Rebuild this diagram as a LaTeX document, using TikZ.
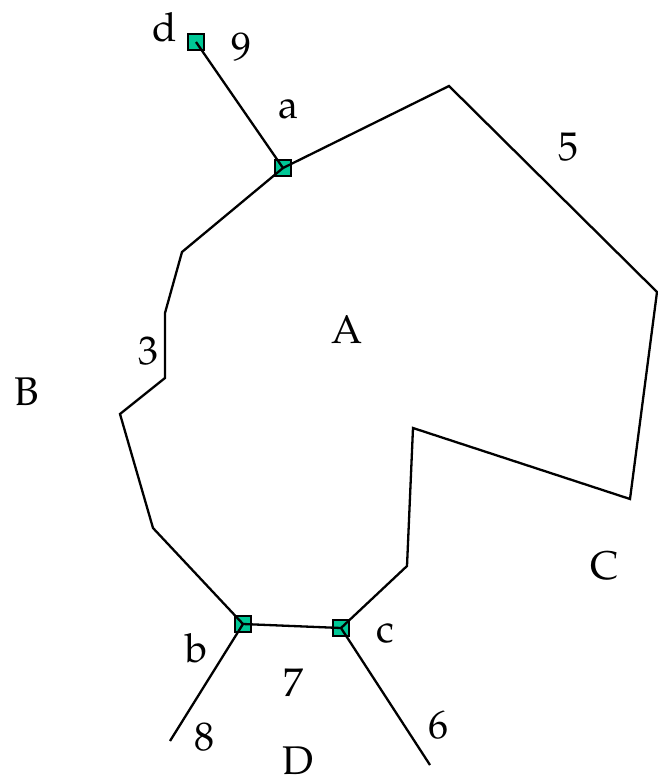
\documentclass[tikz,border=0pt]{standalone}
\usepackage[T1]{fontenc}
\usepackage{mathpazo}
\definecolor{sq}{RGB}{0,200,150}
\tikzset{
  sqnode/.style={draw=black, fill=sq, line width=1.6pt, minimum size=16pt, inner sep=0pt},
  lbl/.style={inner sep=0pt, font=\fontsize{40}{42}\selectfont},
  edge/.style={line width=2.3pt, line join=miter}
}
\begin{document}
\begin{tikzpicture}[x=1pt,y=-1pt]
\useasboundingbox (0,0) rectangle (657,779);
% squares
\node[sqnode] (d) at (196,42) {};
\node[sqnode] (a) at (283,168) {};
\node[sqnode] (b) at (243,624) {};
\node[sqnode] (c) at (341,628) {};
% polygon corners
\coordinate (p1) at (449,86);
\coordinate (p2) at (657,292);
\coordinate (p3) at (630,499);
\coordinate (p4) at (413,428);
\coordinate (p5) at (407,566);
\coordinate (q1) at (153,528);
\coordinate (q2) at (120,414);
\coordinate (q3) at (165,378);
\coordinate (q4) at (165,313);
\coordinate (q5) at (182,252);
\coordinate (e8) at (170,741);
\coordinate (e6) at (430,765);
% lines
\draw[edge] (a.center) -- (p1) -- (p2) -- (p3) -- (p4) -- (p5) -- (c.center);
\draw[edge] (c.center) -- (b.center);
\draw[edge] (b.center) -- (q1) -- (q2) -- (q3) -- (q4) -- (q5) -- (a.center);
\draw[edge] (d.center) -- (a.center);
\draw[edge] (b.center) -- (e8);
\draw[edge] (c.center) -- (e6);
% labels
\node[lbl] (ld) at (165,27) {d};
\node[lbl] (l9) at (241,47) {9};
\node[lbl] (la) at (288,109) {a};
\node[lbl] (l5) at (568,147) {5};
\node[lbl] (lA) at (347,330) {A};
\node[lbl] (l3) at (148,351) {3};
\node[lbl] (lB) at (27,392) {B};
\node[lbl] (lC) at (605,566) {C};
\node[lbl] (lc) at (385,633) {c};
\node[lbl] (lb) at (197,648) {b};
\node[lbl] (l7) at (293,683) {7};
\node[lbl] (l8) at (204,737) {8};
\node[lbl] (l6) at (438,725) {6};
\node[lbl] (lD) at (298,761) {D};
\end{tikzpicture}
\end{document}
